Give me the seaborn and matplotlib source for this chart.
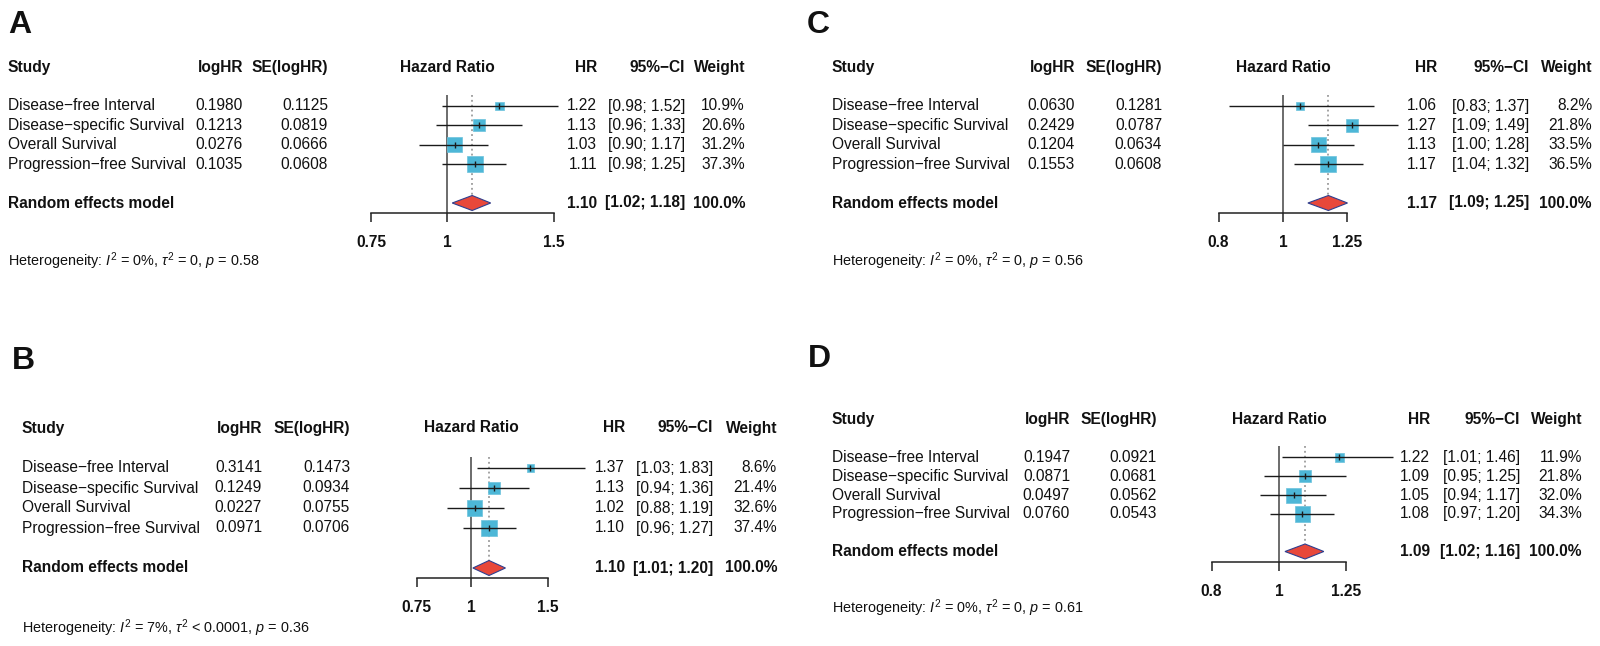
"""
Forest plots of HR for four survival endpoints (panels A-D), meta-style layout.
"""
import numpy as np
import matplotlib
matplotlib.use("Agg")
import matplotlib.pyplot as plt
import matplotlib.ticker as mticker
import seaborn as sns

# ── Data ─────────────────────────────────────────────────────────────────────

STUDIES = [
    "Disease\u2212free Interval",
    "Disease\u2212specific Survival",
    "Overall Survival",
    "Progression\u2212free Survival",
]

A_LOGHR = [0.1980, 0.1213, 0.0276, 0.1035]
A_SE    = [0.1125, 0.0819, 0.0666, 0.0608]
A_HR    = [1.22, 1.13, 1.03, 1.11]
A_LO    = [0.98, 0.96, 0.90, 0.98]
A_HI    = [1.52, 1.33, 1.17, 1.25]
A_W     = [10.9, 20.6, 31.2, 37.3]
A_SUM   = [1.10, 1.02, 1.18]
A_HET   = ["0%", "= 0", "0.58"]
A_TICKS = [0.75, 1, 1.5]

B_LOGHR = [0.3141, 0.1249, 0.0227, 0.0971]
B_SE    = [0.1473, 0.0934, 0.0755, 0.0706]
B_HR    = [1.37, 1.13, 1.02, 1.10]
B_LO    = [1.03, 0.94, 0.88, 0.96]
B_HI    = [1.83, 1.36, 1.19, 1.27]
B_W     = [8.6, 21.4, 32.6, 37.4]
B_SUM   = [1.10, 1.01, 1.20]
B_HET   = ["7%", "< 0.0001", "0.36"]
B_TICKS = [0.75, 1, 1.5]

C_LOGHR = [0.0630, 0.2429, 0.1204, 0.1553]
C_SE    = [0.1281, 0.0787, 0.0634, 0.0608]
C_HR    = [1.06, 1.27, 1.13, 1.17]
C_LO    = [0.83, 1.09, 1.00, 1.04]
C_HI    = [1.37, 1.49, 1.28, 1.32]
C_W     = [8.2, 21.8, 33.5, 36.5]
C_SUM   = [1.17, 1.09, 1.25]
C_HET   = ["0%", "= 0", "0.56"]
C_TICKS = [0.8, 1, 1.25]

D_LOGHR = [0.1947, 0.0871, 0.0497, 0.0760]
D_SE    = [0.0921, 0.0681, 0.0562, 0.0543]
D_HR    = [1.22, 1.09, 1.05, 1.08]
D_LO    = [1.01, 0.95, 0.94, 0.97]
D_HI    = [1.46, 1.25, 1.17, 1.20]
D_W     = [11.9, 21.8, 32.0, 34.3]
D_SUM   = [1.09, 1.02, 1.16]
D_HET   = ["0%", "= 0", "0.61"]
D_TICKS = [0.8, 1, 1.25]

# ── Layout (pixel positions) ─────────────────────────────────────────────────

W_PX, H_PX = 1600, 646
FS = 11.2
SQUARE_COL = "#4DB7D7"
DIAMOND_COL = "#E8483A"
LINE_COL = "#1a1a1a"

LAYOUT = {
    "A": dict(letter=(8, 25), study_x=8, loghr_r=243, se_r=328, x1=447, pxlog=264,
              hr_r=597, ci_r=685, w_r=745, y0=106, dy=19.4),
    "C": dict(letter=(807, 25), study_x=832, loghr_r=1075, se_r=1162, x1=1283, pxlog=289,
              hr_r=1437, ci_r=1529, w_r=1592, y0=106, dy=19.4),
    "B": dict(letter=(12, 361), study_x=22, loghr_r=262, se_r=350, x1=471, pxlog=189,
              hr_r=625, ci_r=713, w_r=777, y0=468, dy=20.0),
    "D": dict(letter=(808, 359), study_x=832, loghr_r=1070, se_r=1157, x1=1279, pxlog=302,
              hr_r=1430, ci_r=1520, w_r=1582, y0=457.5, dy=18.8),
}

PANELS = {
    "A": (A_LOGHR, A_SE, A_HR, A_LO, A_HI, A_W, A_SUM, A_HET, A_TICKS),
    "B": (B_LOGHR, B_SE, B_HR, B_LO, B_HI, B_W, B_SUM, B_HET, B_TICKS),
    "C": (C_LOGHR, C_SE, C_HR, C_LO, C_HI, C_W, C_SUM, C_HET, C_TICKS),
    "D": (D_LOGHR, D_SE, D_HR, D_LO, D_HI, D_W, D_SUM, D_HET, D_TICKS),
}

sns.set_theme(style="white")
plt.rcParams["font.family"] = ["Liberation Sans", "DejaVu Sans"]
plt.rcParams["mathtext.fontset"] = "custom"
plt.rcParams["mathtext.rm"] = "Liberation Sans"
plt.rcParams["mathtext.it"] = "Liberation Sans:italic"
plt.rcParams["mathtext.bf"] = "Liberation Sans:bold"
plt.rcParams["xtick.bottom"] = True
plt.rcParams["text.color"] = "#111111"


def draw_panel(fig, canvas, key):
    loghr, se, hr, lo, hi, w, summ, het, ticks = PANELS[key]
    L = LAYOUT[key]
    y0, dy = L["y0"], L["dy"]
    rows = np.arange(len(STUDIES))
    sum_row = len(STUDIES) + 1

    def ypx(r):
        return y0 + r * dy

    # text columns
    canvas.text(*L["letter"], key, fontsize=23, fontweight="bold", va="center", ha="left")
    hdr = ypx(-2)
    bold = dict(fontsize=FS, fontweight="bold", va="center")
    canvas.text(L["study_x"], hdr, "Study", ha="left", **bold)
    canvas.text(L["loghr_r"], hdr, "logHR", ha="right", **bold)
    canvas.text(L["se_r"], hdr, "SE(logHR)", ha="right", **bold)
    canvas.text(L["x1"], hdr, "Hazard Ratio", ha="center", **bold)
    canvas.text(L["hr_r"], hdr, "HR", ha="right", **bold)
    canvas.text(L["ci_r"], hdr, "95%\u2212CI", ha="right", **bold)
    canvas.text(L["w_r"], hdr, "Weight", ha="right", **bold)

    reg = dict(fontsize=FS, va="center")
    for r in rows:
        y = ypx(r)
        canvas.text(L["study_x"], y, STUDIES[r], ha="left", **reg)
        canvas.text(L["loghr_r"], y, f"{loghr[r]:.4f}", ha="right", **reg)
        canvas.text(L["se_r"], y, f"{se[r]:.4f}", ha="right", **reg)
        canvas.text(L["hr_r"], y, f"{hr[r]:.2f}", ha="right", **reg)
        canvas.text(L["ci_r"], y, f"[{lo[r]:.2f}; {hi[r]:.2f}]", ha="right", **reg)
        canvas.text(L["w_r"], y, f"{w[r]:.1f}%", ha="right", **reg)

    ys = ypx(sum_row)
    canvas.text(L["study_x"], ys, "Random effects model", ha="left", **bold)
    canvas.text(L["hr_r"], ys, f"{summ[0]:.2f}", ha="right", **bold)
    canvas.text(L["ci_r"], ys, f"[{summ[1]:.2f}; {summ[2]:.2f}]", ha="right", **bold)
    canvas.text(L["w_r"], ys, f"{sum(w):.1f}%", ha="right", **bold)

    het_txt = (r"Heterogeneity: $I^2$ = " + het[0] + r", $\tau^2$ " + het[1]
               + r", $p$ = " + het[2])
    canvas.text(L["study_x"], ypx(sum_row + 3), het_txt, ha="left", va="center",
                fontsize=10.4)

    # forest axes
    half = 160
    top_r, bot_r = -2.5, 8.5
    ax = fig.add_axes([(L["x1"] - half) / W_PX, 1 - ypx(bot_r) / H_PX,
                       2 * half / W_PX, (bot_r - top_r) * dy / H_PX])
    ax.set_facecolor("none")

    top_line = -11 / dy
    axis_row = sum_row + 10 / dy
    diam_h = 7.5 / dy

    ax.vlines(1, top_line, axis_row, color="#444444", lw=1.1, zorder=1)
    ax.vlines(summ[0], top_line, sum_row - diam_h, color="#8a8a8a", lw=1.1,
              linestyles=(0, (1.2, 2.0)), zorder=1)
    sns.scatterplot(x=hr, y=rows, s=np.array(w) * 3.6, marker="s", color=SQUARE_COL,
                    edgecolor="#6CC3DD", linewidth=0.5, ax=ax, legend=False, zorder=2)
    ax.hlines(rows, lo, hi, color=LINE_COL, lw=1.0, zorder=3)
    ax.scatter(hr, rows, marker="|", s=14, color=LINE_COL, linewidths=1.0, zorder=4)
    ax.fill([summ[1], summ[0], summ[2], summ[0]],
            [sum_row, sum_row - diam_h, sum_row, sum_row + diam_h],
            facecolor=DIAMOND_COL, edgecolor="#2E3F8F", lw=0.8, zorder=3)

    ax.set_xscale("log")
    ax.set_xlim(np.exp(-half / L["pxlog"]), np.exp(half / L["pxlog"]))
    ax.set_ylim(bot_r, top_r)
    ax.set_xlabel("")
    ax.set_ylabel("")
    for s in ["top", "left", "right"]:
        ax.spines[s].set_visible(False)
    ax.spines["bottom"].set_position(("data", axis_row))
    ax.spines["bottom"].set_bounds(ticks[0], ticks[-1])
    ax.spines["bottom"].set_color("#222222")
    ax.spines["bottom"].set_linewidth(1.1)
    ax.set_yticks([])
    ax.xaxis.set_major_locator(mticker.FixedLocator(ticks))
    ax.xaxis.set_minor_locator(mticker.NullLocator())
    ax.xaxis.set_major_formatter(mticker.FuncFormatter(lambda v, p: f"{v:g}"))
    ax.tick_params(axis="x", bottom=True, direction="out", length=6.5, width=1.1,
                   color="#222222", pad=9.5, labelsize=FS, labelcolor="#111111")
    for lab in ax.get_xticklabels():
        lab.set_fontweight("bold")


def main():
    fig = plt.figure(figsize=(W_PX / 100, H_PX / 100), dpi=100)
    canvas = fig.add_axes([0, 0, 1, 1])
    canvas.set_xlim(0, W_PX)
    canvas.set_ylim(H_PX, 0)
    canvas.axis("off")

    for key in ["A", "B", "C", "D"]:
        draw_panel(fig, canvas, key)

    fig.savefig("out.png", dpi=100, facecolor="white")
    plt.close(fig)


if __name__ == "__main__":
    main()
